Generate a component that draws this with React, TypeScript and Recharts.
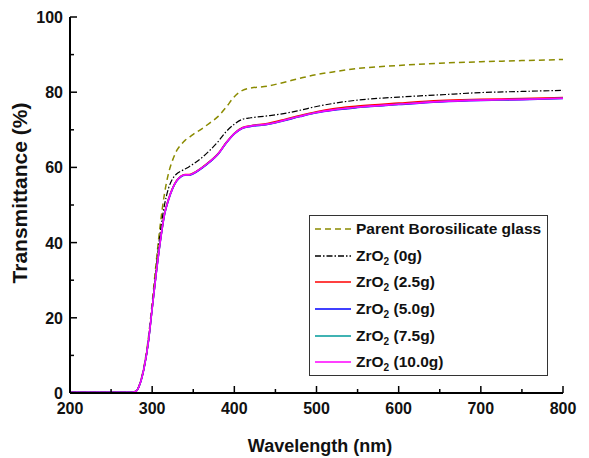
import React from 'react';
import { LineChart, Line, XAxis, YAxis, Legend, Customized } from 'recharts';

const FONT = '"Liberation Sans", Arial, sans-serif';

const wavelengths = [200, 250, 275, 280, 285, 290, 295, 300, 305, 310, 315, 320, 325, 330, 335, 340, 345, 350, 360, 370, 380, 390, 400, 410, 420, 440, 460, 480, 500, 520, 550, 600, 650, 700, 750, 800];
const parentGlass = [0.3, 0.3, 0.3, 0.5, 2.5, 7, 14, 24, 35, 45, 53, 58.5, 62, 64.5, 66, 67.2, 68, 68.8, 70.2, 71.8, 73.5, 76, 78.8, 80.5, 81.1, 81.6, 82.6, 83.7, 84.7, 85.4, 86.3, 87.1, 87.7, 88.1, 88.4, 88.7];
const zr0 = [0.2, 0.2, 0.2, 0.4, 2.3, 6.5, 13, 23, 33.5, 43, 50, 54.5, 57, 58.3, 59, 59.6, 60.2, 60.9, 62.5, 64.5, 66.8, 69.5, 71.5, 72.8, 73.2, 73.7, 74.3, 75.2, 76.2, 77, 77.9, 78.7, 79.3, 79.9, 80.2, 80.5];
const zr25 = [0.2, 0.2, 0.2, 0.4, 2.4, 6.6, 13.1, 22.6, 32.2, 40.7, 47.7, 51.7, 54.6, 56.6, 57.7, 58.1, 58.1, 58.5, 59.9, 61.6, 63.6, 66.6, 69.1, 70.6, 71.1, 71.7, 72.7, 73.8, 74.8, 75.6, 76.3, 77.1, 77.8, 78.1, 78.3, 78.6];
const zr50 = [0.2, 0.2, 0.2, 0.4, 2.3, 6.5, 12.9, 22.4, 31.9, 40.4, 47.4, 51.4, 54.4, 56.4, 57.5, 57.9, 57.9, 58.3, 59.7, 61.4, 63.4, 66.4, 68.9, 70.4, 70.9, 71.4, 72.4, 73.5, 74.5, 75.2, 75.9, 76.7, 77.4, 77.8, 78.0, 78.3];
const zr75 = [0.2, 0.2, 0.2, 0.4, 2.3, 6.5, 13, 22.5, 32, 40.5, 47.5, 51.5, 54.5, 56.5, 57.6, 58, 58, 58.4, 59.8, 61.5, 63.5, 66.5, 69, 70.5, 71, 71.5, 72.5, 73.6, 74.6, 75.3, 76, 76.8, 77.5, 77.9, 78.1, 78.4];
const zr100 = [0.2, 0.2, 0.2, 0.4, 2.3, 6.5, 13, 22.5, 32, 40.5, 47.5, 51.5, 54.5, 56.5, 57.6, 58, 58, 58.4, 59.8, 61.5, 63.5, 66.5, 69, 70.5, 71, 71.5, 72.5, 73.6, 74.6, 75.3, 76, 76.8, 77.5, 77.9, 78.1, 78.4];

const xTicks = [200, 250, 300, 350, 400, 450, 500, 550, 600, 650, 700, 750, 800];
const yTicks = [0, 10, 20, 30, 40, 50, 60, 70, 80, 90, 100];

const seriesNames = ['Parent Borosilicate glass', 'ZrO2 (0g)', 'ZrO2 (2.5g)', 'ZrO2 (5.0g)', 'ZrO2 (7.5g)', 'ZrO2 (10.0g)'];
const seriesValues = [parentGlass, zr0, zr25, zr50, zr75, zr100];
const seriesKeys = ['parent', 'zr0', 'zr25', 'zr50', 'zr75', 'zr100'];
const seriesColors = ['#8b8b00', '#000000', '#ff0000', '#0000ff', '#009a9a', '#ff00ff'];
const seriesDash = ['6 4', '6 2 1.5 2', undefined, undefined, undefined, undefined];
const seriesWidth = [1.5, 1.2, 1.5, 1.5, 1.5, 1.6];

const data = wavelengths.map((w, i) => {
  const row: any = { w };
  seriesKeys.forEach((k, j) => { row[k] = seriesValues[j][i]; });
  return row;
});

const XBottomTick = (props: any) => {
  const { x, y, payload } = props;
  const v = payload.value;
  const major = v % 100 === 0;
  return (
    <g>
      <line x1={x} x2={x} y1={y} y2={y - (major ? 7 : 4)} stroke="#000" strokeWidth={1.5} />
      {major && (
        <text x={x} y={y + 21} textAnchor="middle" fontSize={16} fontWeight="bold" fontFamily={FONT} fill="#111">{v}</text>
      )}
    </g>
  );
};

const XTopTick = (props: any) => {
  const { x, y, payload } = props;
  const major = payload.value % 100 === 0;
  return <line x1={x} x2={x} y1={y} y2={y + (major ? 4 : 3)} stroke="#000" strokeWidth={1.2} />;
};

const YLeftTick = (props: any) => {
  const { x, y, payload } = props;
  const v = payload.value;
  const major = v % 20 === 0;
  return (
    <g>
      <line x1={x} x2={x + (major ? 7 : 4)} y1={y} y2={y} stroke="#000" strokeWidth={1.5} />
      {major && (
        <text x={x - 7} y={y + 6} textAnchor="end" fontSize={16} fontWeight="bold" fontFamily={FONT} fill="#111">{v}</text>
      )}
    </g>
  );
};

const YRightTick = (props: any) => {
  const { x, y, payload } = props;
  const major = payload.value % 20 === 0;
  return <line x1={x} x2={x - (major ? 4 : 3)} y1={y} y2={y} stroke="#000" strokeWidth={1.2} />;
};

const renderName = (name: string) => {
  if (name.startsWith('ZrO2')) {
    return (
      <span>
        ZrO<sub style={{ fontSize: '0.65em', verticalAlign: '-0.35em', lineHeight: 0 }}>2</sub>{name.slice(4)}
      </span>
    );
  }
  return <span>{name}</span>;
};

const renderLegend = () => (
  <div
    style={{
      width: 239,
      height: 161,
      border: '1.5px solid #333',
      boxSizing: 'border-box',
      background: '#fff',
      fontFamily: FONT,
      fontWeight: 'bold',
      fontSize: 15.5,
      color: '#111',
    }}
  >
    {seriesNames.map((n, i) => (
      <div key={n} style={{ display: 'flex', alignItems: 'center', height: 26.6, lineHeight: '16px' }}>
        <svg width={46} height={10} style={{ display: 'block' }}>
          <line x1={5} x2={41} y1={5} y2={5} stroke={seriesColors[i]} strokeDasharray={seriesDash[i]} strokeWidth={1.3} />
        </svg>
        {renderName(n)}
      </div>
    ))}
  </div>
);

const Titles = () => (
  <g fontFamily={FONT} fontWeight="bold" fill="#111">
    <text x={19} y={185} fontSize={21} textAnchor="middle" transform="rotate(-90 19 185)">Transmittance (%)</text>
    <text x={312} y={444} fontSize={18} textAnchor="middle">Wavelength (nm)</text>
  </g>
);

export default function App() {
  return (
    <LineChart width={581} height={450} data={data} margin={{ top: 9, right: 26, left: 0, bottom: 0 }}>
      <XAxis
        dataKey="w"
        type="number"
        domain={[200, 800]}
        ticks={xTicks}
        interval={0}
        height={65}
        tickSize={0}
        tickMargin={0}
        tickLine={false}
        tick={<XBottomTick />}
        axisLine={{ stroke: '#000', strokeWidth: 2 }}
      />
      <XAxis
        xAxisId="top"
        orientation="top"
        dataKey="w"
        type="number"
        domain={[200, 800]}
        ticks={xTicks}
        interval={0}
        height={0}
        tickSize={0}
        tickMargin={0}
        tickLine={false}
        tick={<XTopTick />}
        axisLine={{ stroke: '#000', strokeWidth: 2 }}
      />
      <YAxis
        type="number"
        domain={[0, 100]}
        ticks={yTicks}
        interval={0}
        width={62}
        tickSize={0}
        tickMargin={0}
        tickLine={false}
        tick={<YLeftTick />}
        axisLine={{ stroke: '#000', strokeWidth: 2 }}
      />
      <YAxis
        yAxisId="right"
        orientation="right"
        type="number"
        domain={[0, 100]}
        ticks={yTicks}
        interval={0}
        width={0}
        tickSize={0}
        tickMargin={0}
        tickLine={false}
        tick={<YRightTick />}
        axisLine={{ stroke: '#000', strokeWidth: 2 }}
      />
      {seriesKeys.map((k, i) => (
        <Line
          key={k}
          dataKey={k}
          name={seriesNames[i]}
          type="monotone"
          stroke={seriesColors[i]}
          strokeDasharray={seriesDash[i]}
          strokeWidth={seriesWidth[i]}
          dot={false}
          activeDot={false}
          isAnimationActive={false}
        />
      ))}
      <Legend
        layout="vertical"
        align="center"
        verticalAlign="middle"
        content={renderLegend}
        wrapperStyle={{ left: 301, top: 207, width: 239, height: 161 }}
      />
      <Customized component={Titles} />
    </LineChart>
  );
}
